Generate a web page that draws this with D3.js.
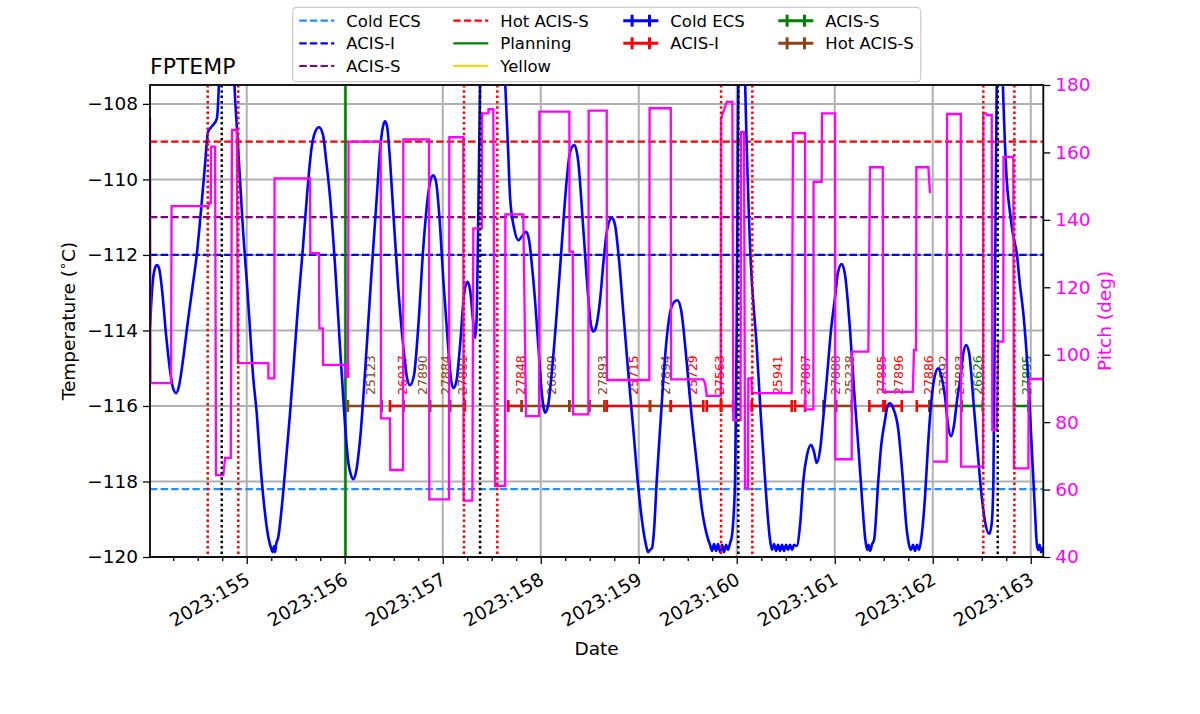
<!DOCTYPE html>
<html>
<head>
<meta charset="utf-8">
<script src="https://cdn.jsdelivr.net/npm/d3@7"></script>
<style>
	body { margin: 0; background: #fff; }
	text { font-family: 'DejaVu Sans', sans-serif; }
</style>
</head>
<body>
<div id="draw"></div>
<script>
// FPTEMP model, [day of year 2023, degC]
var fptemp = [
	[154.013, -113.91], [154.034, -112.93], [154.054, -112.45], [154.082, -112.27], [154.105, -112.35],
	[154.136, -112.93], [154.177, -114.12], [154.217, -115.05], [154.248, -115.53], [154.279, -115.66],
	[154.309, -115.47], [154.35, -114.78], [154.401, -113.73], [154.452, -112.75], [154.49, -112.0],
	[154.534, -110.81], [154.574, -109.62], [154.605, -108.75], [154.646, -108.59], [154.694, -108.4],
	[154.707, -108.03], [154.717, -107.37], [154.728, -106.31], [154.789, -104.72], [154.85, -105.25],
	[154.873, -107.37], [154.901, -108.69], [154.932, -110.02], [154.962, -111.34], [155.0, -112.67],
	[155.034, -113.99], [155.064, -115.18], [155.102, -116.19], [155.136, -117.43], [155.177, -118.62],
	[155.22, -119.47], [155.248, -119.76], [155.265, -119.87], [155.279, -119.71], [155.289, -119.87],
	[155.299, -119.68], [155.322, -119.47], [155.36, -118.62], [155.401, -117.43], [155.442, -116.19],
	[155.483, -114.78], [155.524, -113.33], [155.574, -111.79], [155.615, -110.42], [155.663, -109.14],
	[155.697, -108.75], [155.738, -108.62], [155.779, -108.83], [155.81, -109.49], [155.85, -110.47],
	[155.901, -112.27], [155.952, -114.44], [155.993, -116.11], [156.037, -117.51], [156.064, -117.83],
	[156.088, -117.94], [156.115, -117.75], [156.156, -116.9], [156.224, -114.44], [156.268, -112.67],
	[156.327, -110.47], [156.36, -109.22], [156.391, -108.59], [156.411, -108.46], [156.432, -108.59],
	[156.462, -109.49], [156.496, -110.89], [156.544, -112.8], [156.598, -114.44], [156.626, -115.1],
	[156.666, -115.45], [156.707, -115.18], [156.748, -113.99], [156.802, -111.79], [156.85, -110.42],
	[156.881, -109.97], [156.904, -109.89], [156.932, -110.07], [156.972, -111.21], [157.006, -112.67],
	[157.054, -114.39], [157.085, -115.31], [157.108, -115.53], [157.136, -115.39], [157.177, -114.39],
	[157.217, -113.06], [157.251, -112.71], [157.279, -112.93], [157.309, -113.73], [157.33, -114.2],
	[157.345, -113.73], [157.363, -110.89], [157.376, -108.43], [157.381, -107.37], [157.401, -106.05],
	[157.483, -104.72], [157.585, -105.25], [157.636, -107.37], [157.667, -109.22], [157.687, -110.47],
	[157.728, -111.29], [157.772, -111.61], [157.81, -111.5], [157.85, -111.39], [157.881, -111.61],
	[157.908, -112.22], [157.942, -113.2], [157.976, -114.44], [158.013, -115.71], [158.044, -116.18],
	[158.075, -115.98], [158.115, -115.05], [158.163, -113.54], [158.207, -112.0], [158.265, -110.02],
	[158.299, -109.28], [158.343, -109.09], [158.381, -109.49], [158.435, -111.34], [158.483, -113.06],
	[158.513, -113.86], [158.537, -114.03], [158.564, -113.91], [158.605, -113.2], [158.639, -112.22],
	[158.677, -111.34], [158.725, -111.02], [158.758, -111.21], [158.799, -112.14], [158.843, -113.54],
	[158.891, -115.05], [158.945, -116.64], [158.993, -118.09], [159.047, -119.29], [159.074, -119.68],
	[159.095, -119.87], [159.115, -119.81], [159.136, -119.76], [159.156, -119.29], [159.184, -117.96],
	[159.217, -116.64], [159.251, -115.31], [159.289, -114.12], [159.319, -113.54], [159.36, -113.25],
	[159.394, -113.2], [159.432, -113.46], [159.49, -114.86], [159.534, -116.11], [159.592, -117.51],
	[159.646, -118.76], [159.71, -119.55], [159.728, -119.68], [159.748, -119.84], [159.768, -119.66],
	[159.789, -119.84], [159.809, -119.66], [159.83, -119.87], [159.85, -119.68], [159.87, -119.87],
	[159.891, -119.68], [159.911, -119.81], [159.932, -119.63], [159.952, -119.42], [159.983, -117.96],
	[159.998, -114.52], [160.008, -110.55], [160.016, -107.37], [160.034, -105.25], [160.064, -104.72],
	[160.085, -107.37], [160.136, -111.79], [160.204, -114.44], [160.248, -116.37], [160.289, -117.96],
	[160.34, -119.55], [160.36, -119.81], [160.381, -119.66], [160.401, -119.84], [160.422, -119.68],
	[160.442, -119.84], [160.462, -119.68], [160.483, -119.84], [160.503, -119.68], [160.524, -119.81],
	[160.544, -119.68], [160.564, -119.81], [160.585, -119.68], [160.612, -119.71], [160.646, -119.15],
	[160.68, -117.96], [160.717, -117.3], [160.758, -117.03], [160.789, -117.22], [160.816, -117.51],
	[160.85, -117.17], [160.881, -116.37], [160.918, -115.31], [160.962, -113.99], [161.003, -113.12],
	[161.034, -112.45], [161.071, -112.24], [161.105, -112.53], [161.156, -113.99], [161.197, -115.58],
	[161.241, -117.09], [161.279, -118.49], [161.309, -119.47], [161.33, -119.81], [161.345, -119.68],
	[161.36, -119.84], [161.381, -119.66], [161.401, -119.55], [161.445, -117.96], [161.472, -117.09],
	[161.513, -116.37], [161.534, -116.05], [161.564, -115.93], [161.595, -116.05], [161.649, -116.64],
	[161.687, -117.7], [161.735, -119.29], [161.758, -119.68], [161.779, -119.81], [161.799, -119.68],
	[161.819, -119.84], [161.84, -119.68], [161.86, -119.81], [161.881, -119.55], [161.921, -118.41],
	[161.952, -117.03], [161.99, -115.76], [162.023, -115.18], [162.057, -115.0], [162.085, -115.18],
	[162.125, -115.76], [162.156, -116.51], [162.187, -116.8], [162.217, -116.51], [162.248, -115.84],
	[162.279, -115.31], [162.309, -114.65], [162.34, -114.39], [162.371, -114.6], [162.414, -115.84],
	[162.452, -117.03], [162.5, -118.41], [162.534, -119.07], [162.575, -119.39], [162.6, -119.15],
	[162.619, -117.96], [162.636, -112.67], [162.653, -107.37], [162.666, -105.25], [162.687, -104.72],
	[162.714, -107.37], [162.755, -110.02], [162.789, -110.89], [162.819, -111.47], [162.857, -111.95],
	[162.89, -112.8], [162.924, -113.54], [162.975, -115.31], [163.01, -117.09], [163.044, -118.83],
	[163.061, -119.63], [163.075, -119.81], [163.09, -119.68], [163.105, -119.87], [163.125, -119.74]
];

// pitch, [day of year 2023, deg]; null marks a data gap
var pitch = [
	[154.013, 170.5], [154.018, 91.6], [154.228, 91.6], [154.233, 144.1], [154.608, 144.1], [154.62, 145.0],
	[154.633, 145.0], [154.636, 161.7], [154.677, 161.7], [154.687, 64.3], [154.761, 64.3], [154.779, 69.4],
	[154.837, 69.4], [154.85, 166.7], [154.898, 166.7], [154.911, 97.5], [155.22, 97.5], [155.222, 93.0],
	[155.282, 93.0], [155.284, 152.3], [155.646, 152.3], [155.649, 130.1], [155.738, 130.1], [155.741, 107.8],
	[155.776, 107.8], [155.779, 97.0], [156.013, 97.0], [156.016, 93.4], [156.034, 93.4], [156.039, 163.2],
	[156.367, 163.2], [156.37, 81.1], [156.462, 81.1], [156.465, 65.8], [156.595, 65.8], [156.598, 163.9],
	[156.86, 163.9], [156.863, 57.1], [157.064, 57.1], [157.067, 164.5], [157.21, 164.5], [157.213, 56.7],
	[157.302, 56.7], [157.312, 137.5], [157.398, 137.5], [157.401, 171.6], [157.465, 171.6], [157.467, 172.8],
	[157.516, 172.8], [157.534, 61.1], [157.636, 61.1], [157.639, 141.6], [157.822, 141.6], [157.85, 81.8],
	[157.983, 81.8], [157.986, 172.1], [158.292, 172.1], [158.294, 130.6], [158.327, 130.6], [158.33, 82.3],
	[158.486, 82.3], [158.489, 172.4], [158.673, 172.4], [158.676, 92.5], [159.108, 92.5], [159.111, 173.1],
	[159.327, 173.1], [159.33, 92.7], [159.659, 92.7], [159.677, 91.5], [159.694, 87.8], [159.837, 87.8],
	[159.84, 170.1], [159.898, 175.0], [159.955, 175.0], [159.965, 80.6], [160.039, 80.6], [160.044, 166.1],
	[160.074, 166.1], [160.085, 60.4], [160.115, 60.4], [160.118, 93.0], [160.151, 93.0], [160.154, 88.6],
	[160.561, 88.6], [160.574, 165.7], [160.697, 165.7], [160.7, 83.8], [160.782, 83.8], [160.784, 151.3],
	[160.867, 151.3], [160.87, 171.6], [161.003, 171.6], [161.006, 69.0], [161.173, 69.0], [161.177, 100.9],
	[161.343, 100.9], [161.36, 155.6], [161.49, 155.6], [161.493, 89.0], [161.796, 89.0], [161.809, 101.4],
	[161.83, 101.4], [161.833, 155.6], [161.955, 155.6], [161.972, 147.9], [161.985, null], [162.003, 68.3],
	[162.143, 68.3], [162.146, 171.4], [162.286, 171.4], [162.289, 66.8], [162.513, 66.8], [162.516, 171.6],
	[162.544, 171.6], [162.554, 171.1], [162.602, 171.1], [162.608, 77.7], [162.653, 77.7], [162.669, 103.9],
	[162.72, 103.9], [162.722, 158.7], [162.822, 158.7], [162.829, 66.3], [162.976, 66.3], [162.979, 92.8],
	[163.126, 92.8]
];

var limitNames = ['Cold ECS', 'ACIS-I', 'ACIS-S', 'Hot ACIS-S', 'Planning', 'Yellow'];
var limitValues = [-118.2, -112.0, -111.0, -109.0, -105.0, -103.0];

var obsidIds = ['25123', '26917', '27890', '27884', '27881', '27848', '26089', '', '27893', '25715', '27894', '25729', '27563',
	'', '25941', '27887', '27888', '25238', '27885', '27896', '27886', '27892', '27883', '26626', '27895'];
var obsidStart = [156.033, 156.462, 156.598, 156.87, 157.074, 157.669, 157.806, 158.292, 158.496, 158.673, 159.115, 159.327, 159.694,
	159.84, 160.153, 160.595, 160.884, 161.013, 161.353, 161.513, 161.837, 161.965, 162.143, 162.296, 162.83];
var obsidStop = [156.378, 156.598, 156.87, 157.074, 157.227, 157.806, 158.292, 158.496, 158.649, 159.115, 159.327, 159.659, 159.84,
	159.963, 160.561, 160.697, 161.013, 161.173, 161.496, 161.684, 161.965, 162.143, 162.296, 162.51, 162.976];
var obsidMode = ['Hot ACIS-S', 'ACIS-I', 'Hot ACIS-S', 'Hot ACIS-S', 'Hot ACIS-S', 'ACIS-I', 'Hot ACIS-S', 'Hot ACIS-S', 'Hot ACIS-S',
	'ACIS-I', 'Hot ACIS-S', 'ACIS-I', 'ACIS-I', 'ACIS-I', 'ACIS-I', 'ACIS-I', 'Hot ACIS-S', 'Hot ACIS-S', 'ACIS-I', 'ACIS-I', 'ACIS-I',
	'Hot ACIS-S', 'Hot ACIS-S', 'ACIS-S', 'ACIS-S'];
var obsidLevel = -116;

var loadStart = 156.008;
var radzoneTimes = [154.602, 154.914, 157.217, 157.557, 159.84, 160.159, 162.516, 162.833];
var perigeeTimes = [154.745, 157.381, 160.016, 162.663];

var dayTicks = [155, 156, 157, 158, 159, 160, 161, 162, 163];
var tempTicks = [-120, -118, -116, -114, -112, -110, -108];
var pitchTicks = [40, 60, 80, 100, 120, 140, 160, 180];

// styles
var limitColor = { 'Cold ECS': '#1e90ff', 'ACIS-I': 'blue', 'ACIS-S': 'purple', 'Hot ACIS-S': 'red', 'Planning': 'green', 'Yellow': 'gold' };
var modeColor = { 'Cold ECS': 'blue', 'ACIS-I': 'red', 'ACIS-S': 'green', 'Hot ACIS-S': '#8b4513' };
var fs = 18.5, lfs = 16.5;

var margin = { top: 85, right: 156.7, bottom: 157, left: 150 },
	width = 1200 - margin.left - margin.right,
	height = 714 - margin.top - margin.bottom;

var root = d3.select('#draw').append('svg')
	.attr('width', 1200)
	.attr('height', 714);

var svg = root.append('g')
	.attr('transform', 'translate(' + margin.left + ',' + margin.top + ')');

var x = d3.scaleLinear().domain([154.013, 163.128]).range([0, width]);
var y = d3.scaleLinear().domain([-120, -107.5]).range([height, 0]);
var y2 = d3.scaleLinear().domain([40, 180]).range([height, 0]);

svg.append('clipPath').attr('id', 'clip')
	.append('rect').attr('width', width).attr('height', height);

// grid
var grid = svg.append('g').attr('stroke', '#b0b0b0').attr('stroke-width', 2);
grid.selectAll('.gx').data(dayTicks).enter().append('line')
	.attr('x1', function (d) { return x(d); }).attr('x2', function (d) { return x(d); })
	.attr('y1', 0).attr('y2', height);
grid.selectAll('.gy').data(tempTicks).enter().append('line')
	.attr('y1', function (d) { return y(d); }).attr('y2', function (d) { return y(d); })
	.attr('x1', 0).attr('x2', width);

var plot = svg.append('g').attr('clip-path', 'url(#clip)');

// obsid bars and labels
var obs = d3.range(obsidIds.length);
plot.selectAll('.obar').data(obs).enter().append('line')
	.attr('x1', function (i) { return x(obsidStart[i]); })
	.attr('x2', function (i) { return x(obsidStop[i]); })
	.attr('y1', y(obsidLevel)).attr('y2', y(obsidLevel))
	.attr('stroke', function (i) { return modeColor[obsidMode[i]]; })
	.attr('stroke-width', 2.6);
obs.forEach(function (i) {
	[obsidStart[i], obsidStop[i]].forEach(function (t) {
		plot.append('line')
			.attr('x1', x(t)).attr('x2', x(t))
			.attr('y1', y(obsidLevel) - 6).attr('y2', y(obsidLevel) + 6)
			.attr('stroke', modeColor[obsidMode[i]])
			.attr('stroke-width', 2.6);
	});
});
plot.selectAll('.olab').data(obs).enter().append('text')
	.attr('transform', function (i) {
		return 'translate(' + (x((obsidStart[i] + obsidStop[i]) / 2) + 10) + ',' + (y(obsidLevel) - 11) + ') rotate(-90)';
	})
	.attr('font-size', 12.5)
	.attr('fill', function (i) { return modeColor[obsidMode[i]]; })
	.text(function (i) { return obsidIds[i]; });

// limit lines
limitNames.forEach(function (n, i) {
	var isDash = i < 4;
	plot.append('line')
		.attr('x1', 0).attr('x2', width)
		.attr('y1', y(limitValues[i])).attr('y2', y(limitValues[i]))
		.attr('stroke', limitColor[n])
		.attr('stroke-width', 2.2)
		.attr('stroke-dasharray', isDash ? '7.4,3.2' : null);
});

// load start
plot.append('line')
	.attr('x1', x(loadStart)).attr('x2', x(loadStart))
	.attr('y1', 0).attr('y2', height)
	.attr('stroke', 'green').attr('stroke-width', 2.5);

// temperature
plot.append('path')
	.datum(fptemp)
	.attr('d', d3.line()
		.x(function (d) { return x(d[0]); })
		.y(function (d) { return y(d[1]); })
		.curve(d3.curveMonotoneX))
	.attr('fill', 'none')
	.attr('stroke', 'blue')
	.attr('stroke-width', 2.6);

// pitch
plot.append('path')
	.datum(pitch)
	.attr('d', d3.line()
		.defined(function (d) { return d[1] !== null; })
		.x(function (d) { return x(d[0]); })
		.y(function (d) { return y2(d[1]); }))
	.attr('fill', 'none')
	.attr('stroke', 'magenta')
	.attr('stroke-width', 2.3);

// radzone and perigee
plot.selectAll('.rz').data(radzoneTimes).enter().append('line')
	.attr('x1', function (d) { return x(d); }).attr('x2', function (d) { return x(d); })
	.attr('y1', 0).attr('y2', height)
	.attr('stroke', 'red').attr('stroke-width', 2.5).attr('stroke-dasharray', '2.5,2.8');
plot.selectAll('.pg').data(perigeeTimes).enter().append('line')
	.attr('x1', function (d) { return x(d); }).attr('x2', function (d) { return x(d); })
	.attr('y1', 0).attr('y2', height)
	.attr('stroke', 'black').attr('stroke-width', 2.5).attr('stroke-dasharray', '2.5,2.8');

// axes
function styleAxis(g, color) {
	g.select('.domain').remove();
	g.selectAll('.tick line').attr('stroke', 'black').attr('stroke-width', 1.3);
	g.selectAll('.tick text').attr('font-size', fs).attr('fill', color || 'black')
		.attr('font-family', "'DejaVu Sans', sans-serif");
}

var xa = svg.append('g').attr('transform', 'translate(0,' + height + ')')
	.call(d3.axisBottom(x).tickValues(dayTicks).tickSize(7).tickFormat(function (d) { return '2023:' + d; }));
styleAxis(xa);
xa.selectAll('.tick text')
	.attr('y', 0).attr('dy', null)
	.attr('text-anchor', 'end')
	.attr('transform', 'translate(4,26) rotate(-30)');

var minor = d3.range(154.25, 163.128, 0.25).filter(function (d) { return d % 1 !== 0; });
var xm = svg.append('g').attr('transform', 'translate(0,' + height + ')')
	.call(d3.axisBottom(x).tickValues(minor).tickSize(4).tickFormat(''));
styleAxis(xm);

var ya = svg.append('g').call(d3.axisLeft(y).tickValues(tempTicks).tickSize(7).tickPadding(5)
	.tickFormat(function (d) { return d3.format('d')(d).replace('-', '\u2212'); }));
styleAxis(ya);

var ya2 = svg.append('g').attr('transform', 'translate(' + width + ',0)')
	.call(d3.axisRight(y2).tickValues(pitchTicks).tickSize(7).tickPadding(5));
styleAxis(ya2, 'magenta');

// frame
svg.append('rect').attr('width', width).attr('height', height)
	.attr('fill', 'none').attr('stroke', 'black').attr('stroke-width', 1.8);

// labels
svg.append('text').attr('x', 0).attr('y', -11)
	.attr('font-size', 22).text('FPTEMP');
svg.append('text').attr('x', width / 2).attr('y', height + 98)
	.attr('text-anchor', 'middle').attr('font-size', fs).text('Date');
var yl = svg.append('text')
	.attr('transform', 'translate(' + (-75) + ',' + (height / 2) + ') rotate(-90)')
	.attr('text-anchor', 'middle').attr('font-size', fs);
yl.append('tspan').text('Temperature (');
yl.append('tspan').attr('font-size', fs * 0.7).attr('dy', -8).text('\u2218');
yl.append('tspan').attr('dy', 8).text('C)');
svg.append('text')
	.attr('transform', 'translate(' + (width + 68) + ',' + (height / 2) + ') rotate(-90)')
	.attr('text-anchor', 'middle').attr('font-size', fs).attr('fill', 'magenta')
	.text('Pitch (deg)');

// legend
var lg = root.append('g');
lg.append('rect')
	.attr('x', 292.7).attr('y', 7.3).attr('width', 628).attr('height', 74.4)
	.attr('rx', 4).attr('fill', 'white').attr('fill-opacity', 0.8)
	.attr('stroke', '#cccccc').attr('stroke-width', 1.2);

var legendItems = [];
limitNames.forEach(function (n) { legendItems.push({ name: n, kind: 'limit' }); });
['Cold ECS', 'ACIS-I', 'ACIS-S', 'Hot ACIS-S'].forEach(function (n) { legendItems.push({ name: n, kind: 'mode' }); });

var colX = [299.3, 453.3, 623.3, 778.3];
var colRows = [3, 3, 2, 2];
var rowY = [20.7, 43.3, 66];
var hl = 35;
var k = 0;
colRows.forEach(function (nr, c) {
	for (var r = 0; r < nr; r++, k++) {
		var it = legendItems[k];
		var x0 = colX[c], yy = rowY[r];
		if (it.kind === 'limit') {
			lg.append('line')
				.attr('x1', x0).attr('x2', x0 + hl).attr('y1', yy).attr('y2', yy)
				.attr('stroke', limitColor[it.name]).attr('stroke-width', 2.2)
				.attr('stroke-dasharray', k < 4 ? '7.4,3.2' : null);
		} else {
			var col = modeColor[it.name];
			lg.append('line')
				.attr('x1', x0).attr('x2', x0 + hl).attr('y1', yy).attr('y2', yy)
				.attr('stroke', col).attr('stroke-width', 3);
			[x0 + hl / 2 - 8.7, x0 + hl / 2 + 8.7].forEach(function (cx) {
				lg.append('line')
					.attr('x1', cx).attr('x2', cx).attr('y1', yy - 6).attr('y2', yy + 6)
					.attr('stroke', col).attr('stroke-width', 3);
			});
		}
		lg.append('text')
			.attr('x', x0 + hl + 12).attr('y', yy).attr('dy', '0.36em')
			.attr('font-size', lfs).text(it.name);
	}
});
</script>
</body>
</html>
